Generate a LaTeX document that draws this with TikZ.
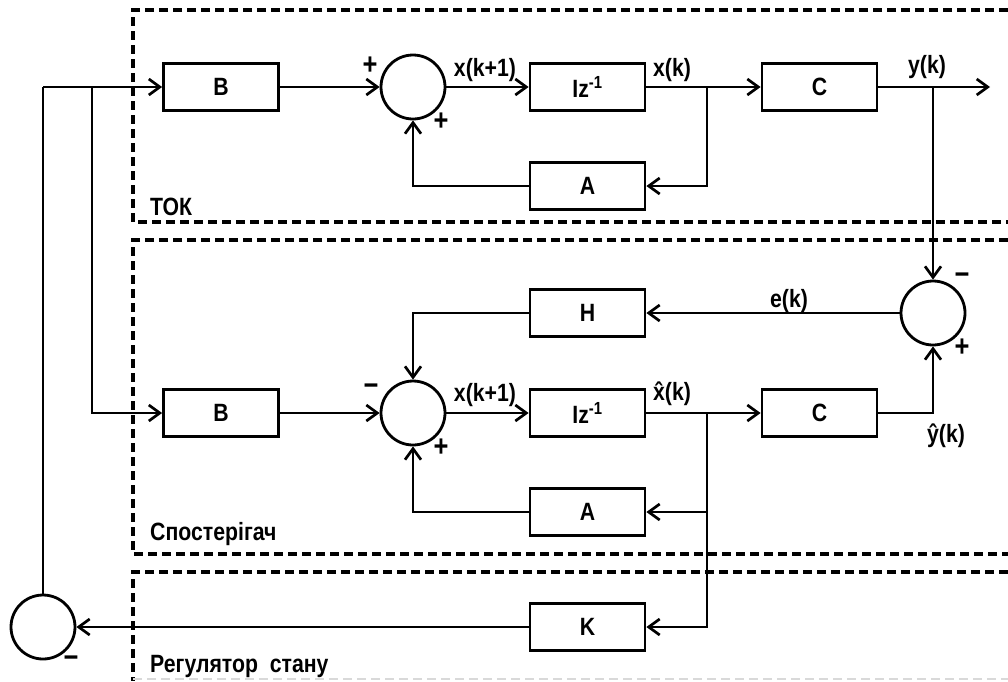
\documentclass[tikz,border=0pt]{standalone}
\usepackage{fontspec}
\setmainfont{Liberation Sans}[FakeStretch=0.85]
\usetikzlibrary{arrows.meta}
\begin{document}
\begin{tikzpicture}[x=1pt,y=-1pt,
  txt/.style={font=\fontsize{25}{29}\selectfont\bfseries},
  blk/.style={draw, line width=2.8pt, minimum width=115pt, minimum height=47pt, inner sep=0pt, txt},
  sumc/.style={draw, circle, line width=2.8pt, minimum size=64pt, inner sep=0pt},
  wire/.style={line width=2.7pt},
  arr/.style={wire, -{Straight Barb[length=11pt,width=16pt]}},
  lbl/.style={inner sep=0pt, txt},
  sgn/.style={inner sep=0pt, font=\fontsize{30}{34}\selectfont\bfseries},
  frame/.style={line width=3.2pt, dash pattern=on 9pt off 5pt}]
\useasboundingbox (0,0) rectangle (1008,681);

% dashed frames of the three subsystems
\draw[frame] (1008,10) -- (133,10) -- (133,222) -- (1008,222);
\draw[frame] (1008,240) -- (133,240) -- (133,554) -- (1008,554);
\draw[frame] (1008,572) -- (133,572) -- (133,681);
\draw[frame, gray!30, line width=2pt] (133,679) -- (1008,679);

% plant
\node[blk] (B1) at (221,87) {B};
\node[sumc] (S1) at (413,87) {};
\node[blk] (Z1) at (587.5,87) {Iz\textsuperscript{-1}};
\node[blk] (C1) at (819.5,87) {C};
\node[blk] (A1) at (587.5,186) {A};
\coordinate (J1) at (707,87);
\coordinate (Yk) at (933,87);
\coordinate (Out) at (990,87);
\coordinate (In) at (43,87);
\coordinate (J0) at (92,87);

% observer
\node[sumc] (S3) at (933,313) {};
\node[blk] (H) at (587.5,313) {H};
\node[sumc] (S2) at (413,413) {};
\node[blk] (B2) at (221,413) {B};
\node[blk] (Z2) at (587.5,413) {Iz\textsuperscript{-1}};
\node[blk] (C2) at (819.5,413) {C};
\node[blk] (A2) at (587.5,512) {A};
\coordinate (J2) at (707,413);

% state feedback
\node[blk] (K) at (587.5,627) {K};
\node[sumc] (S4) at (43,627) {};

% connectors
\draw[wire] (In) -- (S4.north);
\draw[arr] (In) -- (B1.west);
\draw[arr] (J0) |- (B2.west);
\draw[arr] (B1) -- (S1);
\draw[arr] (S1) -- (Z1);
\draw[arr] (Z1) -- (C1);
\draw[arr] (C1) -- (Out);
\draw[arr] (J1) |- (A1.east);
\draw[arr] (A1.west) -| (S1.south);
\draw[arr] (Yk) -- (S3.north);
\draw[arr] (S3.west) -- (H.east);
\draw[arr] (H.west) -| (S2.north);
\draw[arr] (B2) -- (S2);
\draw[arr] (S2) -- (Z2);
\draw[arr] (Z2) -- (C2);
\draw[arr] (C2.east) -| (S3.south);
\draw[arr] (J2) |- (A2.east);
\draw[arr] (A2.west) -| (S2.south);
\draw[arr] (J2) |- (K.east);
\draw[arr] (K.west) -- (S4.east);

% signal labels
\node[lbl] (lx1) at (485,70) {x(k+1)};
\node[lbl] (lxk) at (672,70) {x(k)};
\node[lbl] (lyk) at (927,67) {y(k)};
\node[lbl] (lek) at (789,301) {e(k)};
\node[lbl] (lx2) at (485,395) {x(k+1)};
\node[lbl] (lxh) at (672,394) {\^x(k)};
\node[lbl] (lyh) at (946,436) {\^y(k)};

% summation signs
\node[sgn] (p1) at (370,66) {+};
\node[sgn] (p2) at (441,122) {+};
\node[sgn] (m2) at (371,390) {−};
\node[sgn] (p3) at (441,448) {+};
\node[sgn] (m3) at (962,279) {−};
\node[sgn] (p4) at (962,348) {+};
\node[sgn] (m4) at (71,662) {−};

% subsystem titles
\node[lbl, anchor=base west] (tok) at (150,215) {ТОК};
\node[lbl, anchor=base west] (obs) at (150,540) {Спостерігач};
\node[lbl, anchor=base west] (reg) at (150,672) {Регулятор\ \ стану};
\end{tikzpicture}
\end{document}
